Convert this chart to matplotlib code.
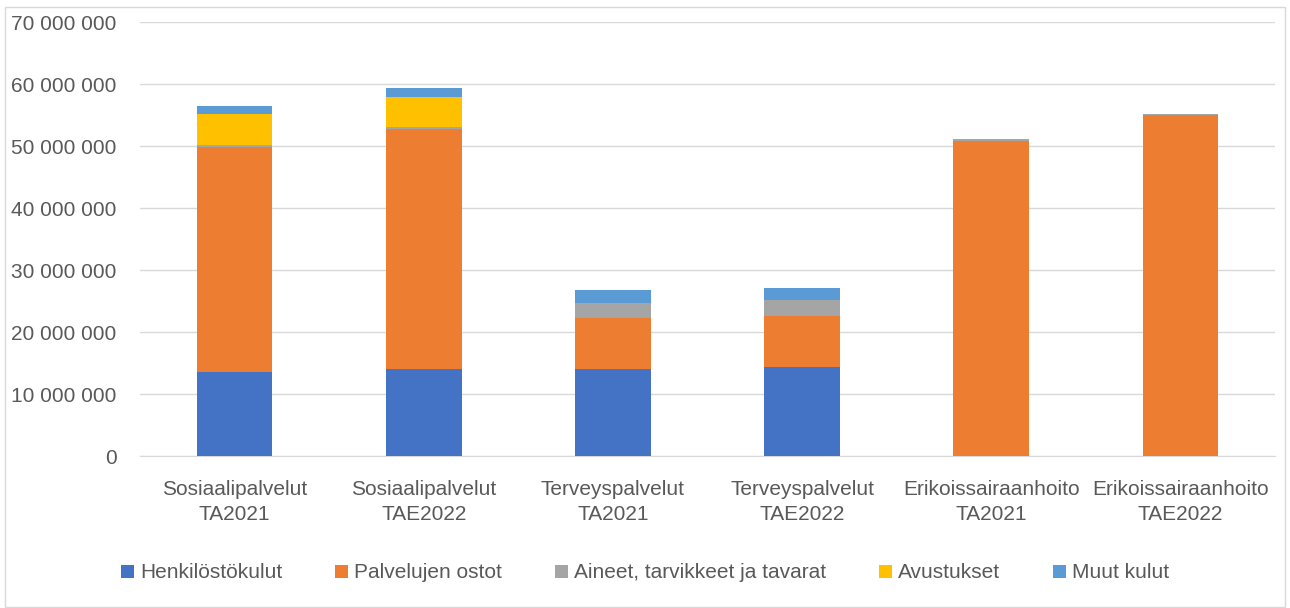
import matplotlib.pyplot as plt
import numpy as np
from matplotlib.patches import Rectangle

plt.rcParams['font.family'] = ['Liberation Sans', 'DejaVu Sans']

categories = ["Sosiaalipalvelut\nTA2021", "Sosiaalipalvelut\nTAE2022",
              "Terveyspalvelut\nTA2021", "Terveyspalvelut\nTAE2022",
              "Erikoissairaanhoito\nTA2021", "Erikoissairaanhoito\nTAE2022"]

henkilosto = [13.6e6, 14.1e6, 14.0e6, 14.4e6, 0, 0]
palvelut = [36.2e6, 38.6e6, 8.3e6, 8.2e6, 50.8e6, 55.0e6]
aineet = [0.3e6, 0.3e6, 2.4e6, 2.6e6, 0.4e6, 0.1e6]
avustukset = [5.1e6, 4.95e6, 0, 0, 0, 0]
muut = [1.3e6, 1.4e6, 2.0e6, 1.95e6, 0, 0.1e6]

series = [("Henkilöstökulut", henkilosto, "#4472C4"),
          ("Palvelujen ostot", palvelut, "#ED7D31"),
          ("Aineet, tarvikkeet ja tavarat", aineet, "#A5A5A5"),
          ("Avustukset", avustukset, "#FFC000"),
          ("Muut kulut", muut, "#5B9BD5")]

fig = plt.figure(figsize=(12.9, 6.08), dpi=100)
ax = fig.add_axes([140/1290, 1-456/608, (1275-140)/1290, (456-22)/608])

x = np.arange(len(categories))
bottom = np.zeros(len(categories))
for name, vals, col in series:
    vals = np.array(vals)
    ax.bar(x, vals, 0.40, bottom=bottom, color=col, label=name, zorder=3)
    bottom += vals

ax.set_xlim(-0.5, 5.5)
ax.set_ylim(0, 70e6)
ax.set_yticks(np.arange(0, 70e6 + 1, 10e6))
ax.yaxis.set_major_formatter(plt.FuncFormatter(lambda v, p: "{:,.0f}".format(v).replace(",", " ")))
ax.grid(axis='y', color='#d9d9d9', linewidth=1, zorder=0)
for s in ['top', 'right', 'left']:
    ax.spines[s].set_visible(False)
ax.spines['bottom'].set_color('#d9d9d9')
ax.tick_params(axis='both', length=0, labelsize=15, colors='#595959')
ax.tick_params(axis='y', pad=17)
ax.tick_params(axis='x', pad=17)
ax.set_xticks(x)
ax.set_xticklabels(categories, linespacing=1.45)

fig.legend(loc='center', bbox_to_anchor=(0.5, 1-573/608), ncol=5, frameon=False,
           fontsize=15, labelcolor='#595959', handlelength=0.6, handleheight=0.6,
           handletextpad=0.3, columnspacing=2.55)

fig.patches.append(Rectangle((5/1290, 0.002), 1-10/1290, 1-7/608-0.002, transform=fig.transFigure,
                             fill=False, edgecolor='#d9d9d9', linewidth=1))

plt.savefig("out.png")
